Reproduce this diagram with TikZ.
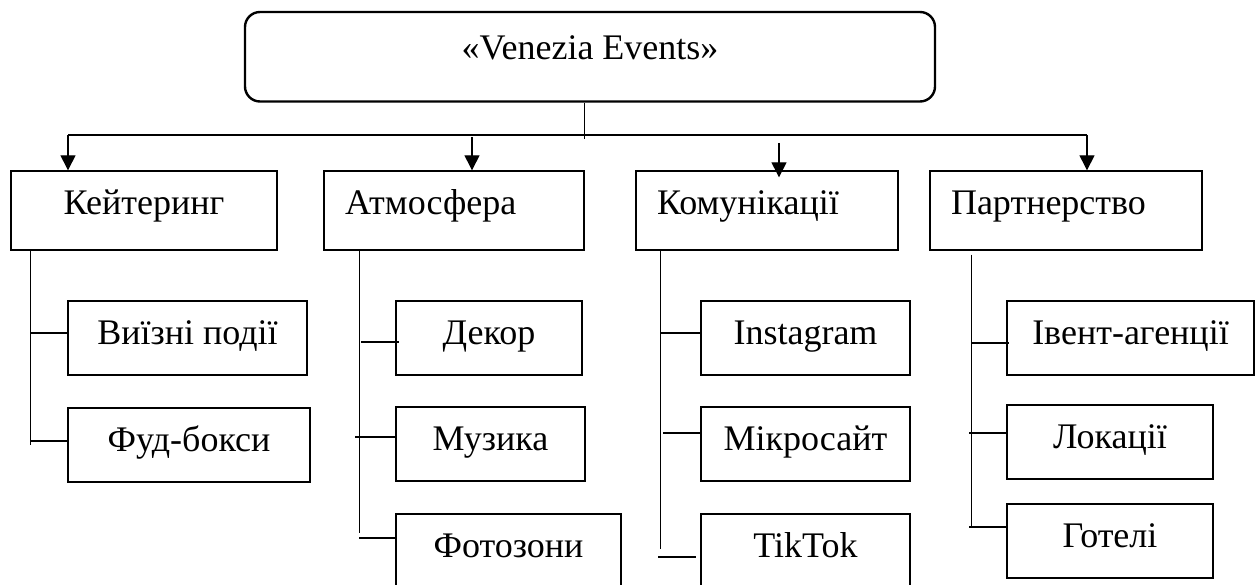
\documentclass[tikz,border=0pt]{standalone}
\usepackage{fontspec}
\setmainfont{Liberation Serif}
\usetikzlibrary{arrows.meta}
\begin{document}
\begin{tikzpicture}[x=1pt,y=-1pt,
  ln/.style={line width=1.4pt},
  arr/.style={ln,-{Triangle[width=15pt,length=15pt]}},
  box/.style={draw,line width=1.4pt,inner sep=0pt,font=\fontsize{36}{40}\selectfont},
  topbox/.style={box,line width=2.4pt,rounded corners=15pt,text height=14.5pt,text depth=8pt},
  lvone/.style={box,minimum height=79pt,text height=17pt,text depth=8pt},
  lvleft/.style={lvone,align=left,inner xsep=21pt},
  lvtwo/.style={box,minimum height=74pt,text height=21pt,text depth=8pt}]
\useasboundingbox (0,0) rectangle (1258,585);
\clip (0,0) rectangle (1258,585);
% root
\node[topbox,minimum width=690pt,minimum height=89.5pt] (root) at (590,56.75) {«Venezia Events»};
% level one
\node[lvone,minimum width=266pt] (kat) at (144,210.5) {Кейтеринг};
\node[lvleft,text width=218pt] (atm) at (454,210.5) {Атмосфера};
\node[lvleft,text width=220pt] (kom) at (767,210.5) {Комунікації};
\node[lvleft,text width=230pt] (par) at (1066,210.5) {Партнерство};
% level two
\node[lvtwo,minimum width=239pt] (vyi) at (187.5,338) {Виїзні події};
\node[lvtwo,minimum width=242pt] (fud) at (189,445) {Фуд-бокси};
\node[lvtwo,minimum width=186pt] (dek) at (489,338) {Декор};
\node[lvtwo,minimum width=189pt] (muz) at (490.5,444) {Музика};
\node[lvtwo,minimum width=225pt] (foto) at (508.5,551) {Фотозони};
\node[lvtwo,minimum width=209pt] (inst) at (805.5,338) {Instagram};
\node[lvtwo,minimum width=209pt] (mik) at (805.5,444) {Мікросайт};
\node[lvtwo,minimum width=209pt] (tik) at (805.5,551) {TikTok};
\node[lvtwo,minimum width=247pt] (ivent) at (1130.5,338) {Івент-агенції};
\node[lvtwo,minimum width=206pt] (lok) at (1110,442) {Локації};
\node[lvtwo,minimum width=206pt] (got) at (1110,541) {Готелі};
% bus
\coordinate (busL) at (68,135);
\coordinate (busR) at (1087,135);
\draw[ln] ([xshift=-5.5pt]root.south) -- ++(0,36);
\draw[ln] (busL) -- (busR);
\draw[arr] (busL) -- (busL |- kat.north);
\draw[arr] ([xshift=18pt,yshift=-2pt]atm.north |- busL) -- ([xshift=18pt]atm.north);
\draw[arr] ([xshift=12pt,yshift=-8pt]kom.north |- busL) -- ([xshift=12pt,yshift=-7pt]kom.north);
\draw[arr] (busR) -- (busR |- par.north);
% trunks
\coordinate (tk) at ([xshift=20pt]kat.south west);
\coordinate (ta) at ([xshift=36pt]atm.south west);
\coordinate (tm) at ([xshift=25pt]kom.south west);
\coordinate (tp) at ([xshift=42pt,yshift=-4pt]par.south west);
\draw[ln] (tk) -- ++(0,194);
\draw[ln] (ta) -- ++(0,282);
\draw[ln] (tm) -- ++(0,298);
\draw[ln] (tp) -- ++(0,273);
% branches
\draw[ln] ([yshift=5pt]vyi.west -| tk) -- ([yshift=5pt]vyi.west);
\draw[ln] ([yshift=4pt]fud.west -| tk) -- ([yshift=4pt]fud.west);
\draw[ln] ([xshift=2pt,yshift=-4pt]dek.west -| ta) -- ([xshift=4pt,yshift=-4pt]dek.west);
\draw[ln] ([xshift=-4pt,yshift=7pt]muz.west -| ta) -- ([yshift=7pt]muz.west);
\draw[ln] ([yshift=13pt]foto.west -| ta) -- ([xshift=2pt,yshift=13pt]foto.west);
\draw[ln] ([yshift=5pt]inst.west -| tm) -- ([yshift=5pt]inst.west);
\draw[ln] ([xshift=3pt,yshift=11pt]mik.west -| tm) -- ([yshift=11pt]mik.west);
\draw[ln] ([xshift=-2pt,yshift=-6pt]tik.west -| tm) -- ([xshift=-4pt,yshift=-6pt]tik.west);
\draw[ln] ([yshift=-5pt]ivent.west -| tp) -- ([xshift=3pt,yshift=-5pt]ivent.west);
\draw[ln] ([xshift=-2pt,yshift=9pt]lok.west -| tp) -- ([yshift=9pt]lok.west);
\draw[ln] ([xshift=-2pt,yshift=14pt]got.west -| tp) -- ([yshift=14pt]got.west);
\end{tikzpicture}
\end{document}
